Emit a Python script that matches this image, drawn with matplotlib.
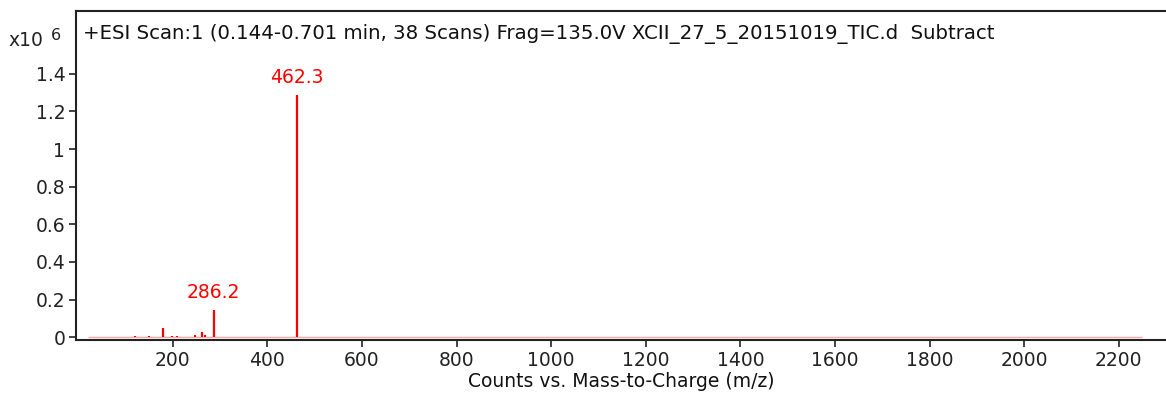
import numpy as np
import matplotlib.pyplot as plt

plt.rcParams['font.family'] = ['DejaVu Sans']

# peaks (m/z, intensity in x10^6 counts)
mz = [120, 149, 179, 198, 209, 247, 262, 268, 286.2, 462.3]
counts = [0.008, 0.008, 0.05, 0.006, 0.006, 0.01, 0.03, 0.012, 0.145, 1.29]
labelled = [286.2, 462.3]
title = "+ESI Scan:1 (0.144-0.701 min, 38 Scans) Frag=135.0V XCII_27_5_20151019_TIC.d  Subtract"
xticks = [200, 400, 600, 800, 1000, 1200, 1400, 1600, 1800, 2000, 2200]
yticks = [0, 0.2, 0.4, 0.6, 0.8, 1, 1.2, 1.4]
ytick_labels = ['0', '0.2', '0.4', '0.6', '0.8', '1', '1.2', '1.4']

fs = 13.5
fig = plt.figure(figsize=(11.66, 3.94), dpi=100)
ax = fig.add_axes([0.0655, 0.137, 0.9345, 0.835])

ax.hlines(0, 20, 2250, color='red', lw=1, alpha=0.35)
ax.vlines(mz, 0, counts, color='red', lw=1.6)
for m, c in zip(mz, counts):
    if m in labelled:
        ax.text(m, c + 0.04, f"{m:.1f}", color='red', fontsize=fs,
                ha='center', va='bottom')

ax.set_xlim(-4, 2300)
ax.set_ylim(-0.015, 1.734)
ax.set_xticks(xticks)
ax.set_yticks(yticks)
ax.set_yticklabels(ytick_labels)
ax.tick_params(axis='both', direction='out', length=5, width=1.2,
               labelsize=fs, colors='#222222', pad=3)
ax.spines['right'].set_visible(False)
for s in ['left', 'bottom', 'top']:
    ax.spines[s].set_linewidth(1.5)
    ax.spines[s].set_color('#222222')

ax.text(0.006, 0.93, title, transform=ax.transAxes, fontsize=14.2,
        color='#111111', va='center', ha='left')
ax.set_xlabel('Counts vs. Mass-to-Charge (m/z)', fontsize=fs,
              color='#111111', labelpad=1)
fig.text(0.007, 0.897, 'x10', fontsize=fs, color='#222222',
         va='center', ha='left')
fig.text(0.044, 0.91, '6', fontsize=11.5, color='#222222',
         va='center', ha='left')

fig.savefig('out.png', dpi=100)
